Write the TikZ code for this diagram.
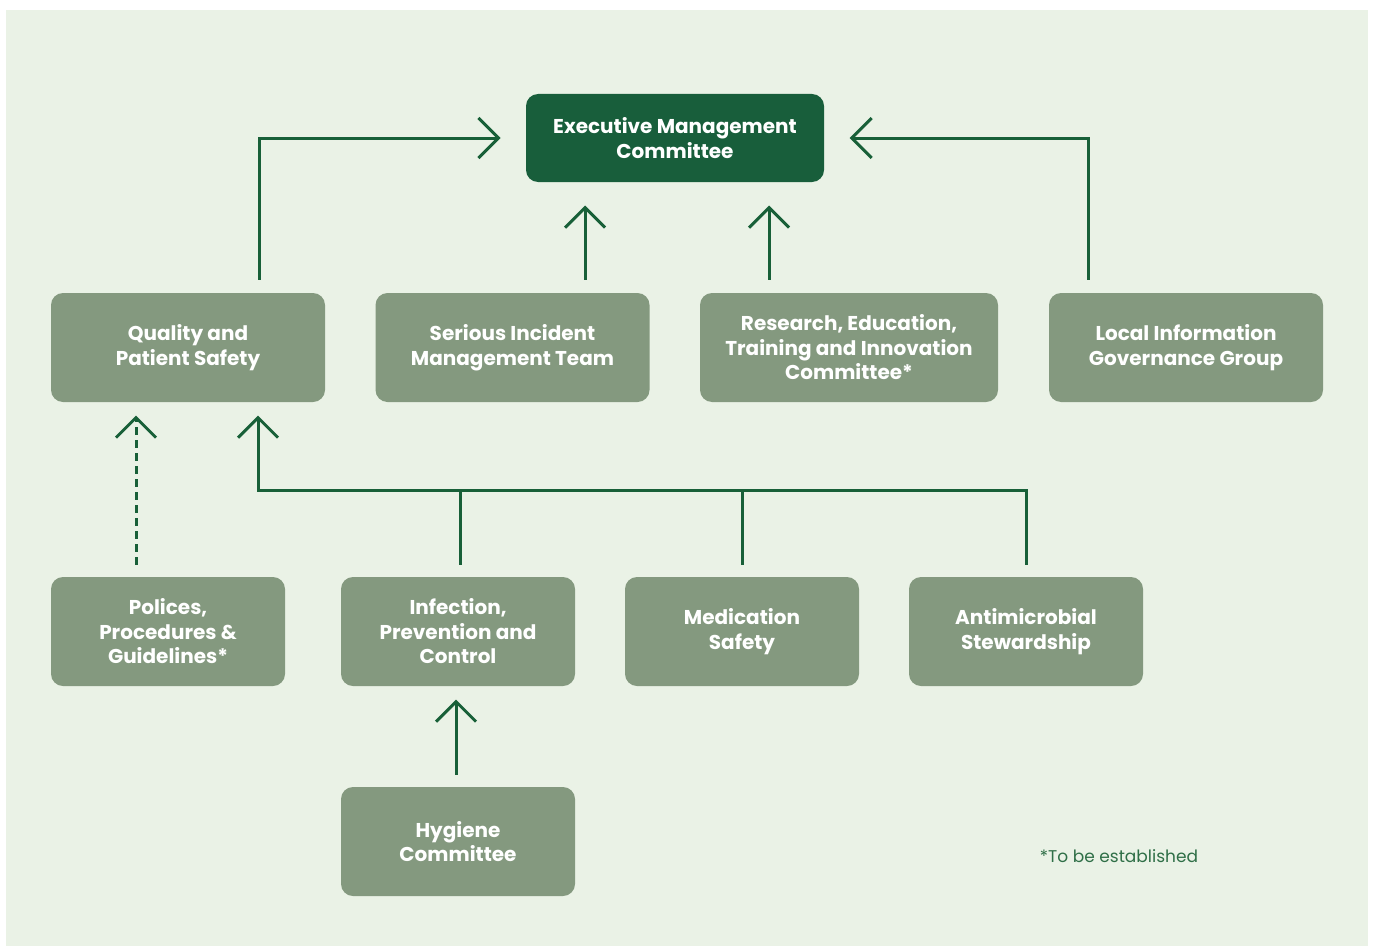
\documentclass[tikz,border=0pt]{standalone}
\usepackage{fontspec}
\setmainfont{Poppins}
\usetikzlibrary{arrows.meta}

\definecolor{bgGreen}{HTML}{EAF2E6}
\definecolor{darkGreen}{HTML}{185E3B}
\definecolor{boxGreen}{HTML}{84997F}
\definecolor{lineGreen}{HTML}{186038}
\definecolor{noteGreen}{HTML}{2F6F47}

\tikzset{every picture/.style={line width=3pt}}
\tikzset{
	box/.style={rectangle, rounded corners=12pt, fill=boxGreen, text=white, align=center,
		font=\fontsize{20}{24.5}\selectfont\bfseries, minimum height=109pt, inner sep=0pt},
	topbox/.style={box, fill=darkGreen, minimum width=298pt, minimum height=88pt},
	link/.style={draw=lineGreen, line width=3pt},
	conn/.style={link, -{Straight Barb[length=20pt,width=40pt]}},
}

\begin{document}
\begin{tikzpicture}[x=1pt,y=1pt,yscale=-1,xscale=1]
	\useasboundingbox (0,0) rectangle (1375,947);
	% background
	\fill[bgGreen] (6,10) rectangle (1368,946);

	% top
	\node[topbox] (emc) at (675,138) {Executive Management\\Committee};

	% second row
	\node[box, minimum width=274pt] (qps) at (188,347.5) {Quality and\\Patient Safety};
	\node[box, minimum width=274pt] (sim) at (512.5,347.5) {Serious Incident\\Management Team};
	\node[box, minimum width=298pt] (rec) at (849,347.5) {Research, Education,\\Training and Innovation\\Committee*};
	\node[box, minimum width=274pt] (lig) at (1186,347.5) {Local Information\\Governance Group};

	% third row
	\node[box, minimum width=234pt] (ppg) at (168,631.5) {Polices,\\Procedures \&\\Guidelines*};
	\node[box, minimum width=234pt] (ipc) at (458,631.5) {Infection,\\Prevention and\\Control};
	\node[box, minimum width=234pt] (ms) at (742,631.5) {Medication\\Safety};
	\node[box, minimum width=234pt] (as) at (1026,631.5) {Antimicrobial\\Stewardship};

	% bottom
	\node[box, minimum width=234pt] (hc) at (458,841.5) {Hygiene\\Committee};

	\node[text=noteGreen, font=\fontsize{17}{19}\selectfont] (note) at (1119,856) {*To be established};

	% connectors to the top
	\draw[conn] ([xshift=71pt,yshift=-12pt]qps.north) |- ([xshift=-24pt]emc.west);
	\draw[conn] ([xshift=-98pt,yshift=-12pt]lig.north) |- ([xshift=24pt]emc.east);
	\coordinate (emcBot) at ([yshift=22pt]emc.south);
	\coordinate (simTop) at ([xshift=72.5pt,yshift=-12pt]sim.north);
	\coordinate (recTop) at ([xshift=-80pt,yshift=-12pt]rec.north);
	\draw[conn] (simTop) -- (simTop |- emcBot);
	\draw[conn] (recTop) -- (recTop |- emcBot);

	% connectors to quality and patient safety
	\coordinate (qpsIn) at ([xshift=70pt,yshift=12pt]qps.south);
	\coordinate (ppgTop) at ([xshift=-32pt,yshift=-11pt]ppg.north);
	\draw[conn, dash pattern=on 8pt off 5pt] (ppgTop) -- (ppgTop |- qpsIn);
	\coordinate (ipcTop) at ([xshift=2pt,yshift=-11pt]ipc.north);
	\coordinate (busL) at ([xshift=2pt,yshift=-85pt]ipc.north);
	\coordinate (msTop) at ([yshift=-11pt]ms.north);
	\coordinate (asTop) at ([yshift=-11pt]as.north);
	\draw[conn] (ipcTop) -- (busL) -| (qpsIn);
	\draw[link] (asTop) |- (busL);
	\draw[link] (msTop) -- (msTop |- busL);

	% hygiene
	\coordinate (hcTop) at ([xshift=-2pt,yshift=-11pt]hc.north);
	\coordinate (ipcBot) at ([xshift=-2pt,yshift=12pt]ipc.south);
	\draw[conn] (hcTop) -- (ipcBot);
\end{tikzpicture}
\end{document}
